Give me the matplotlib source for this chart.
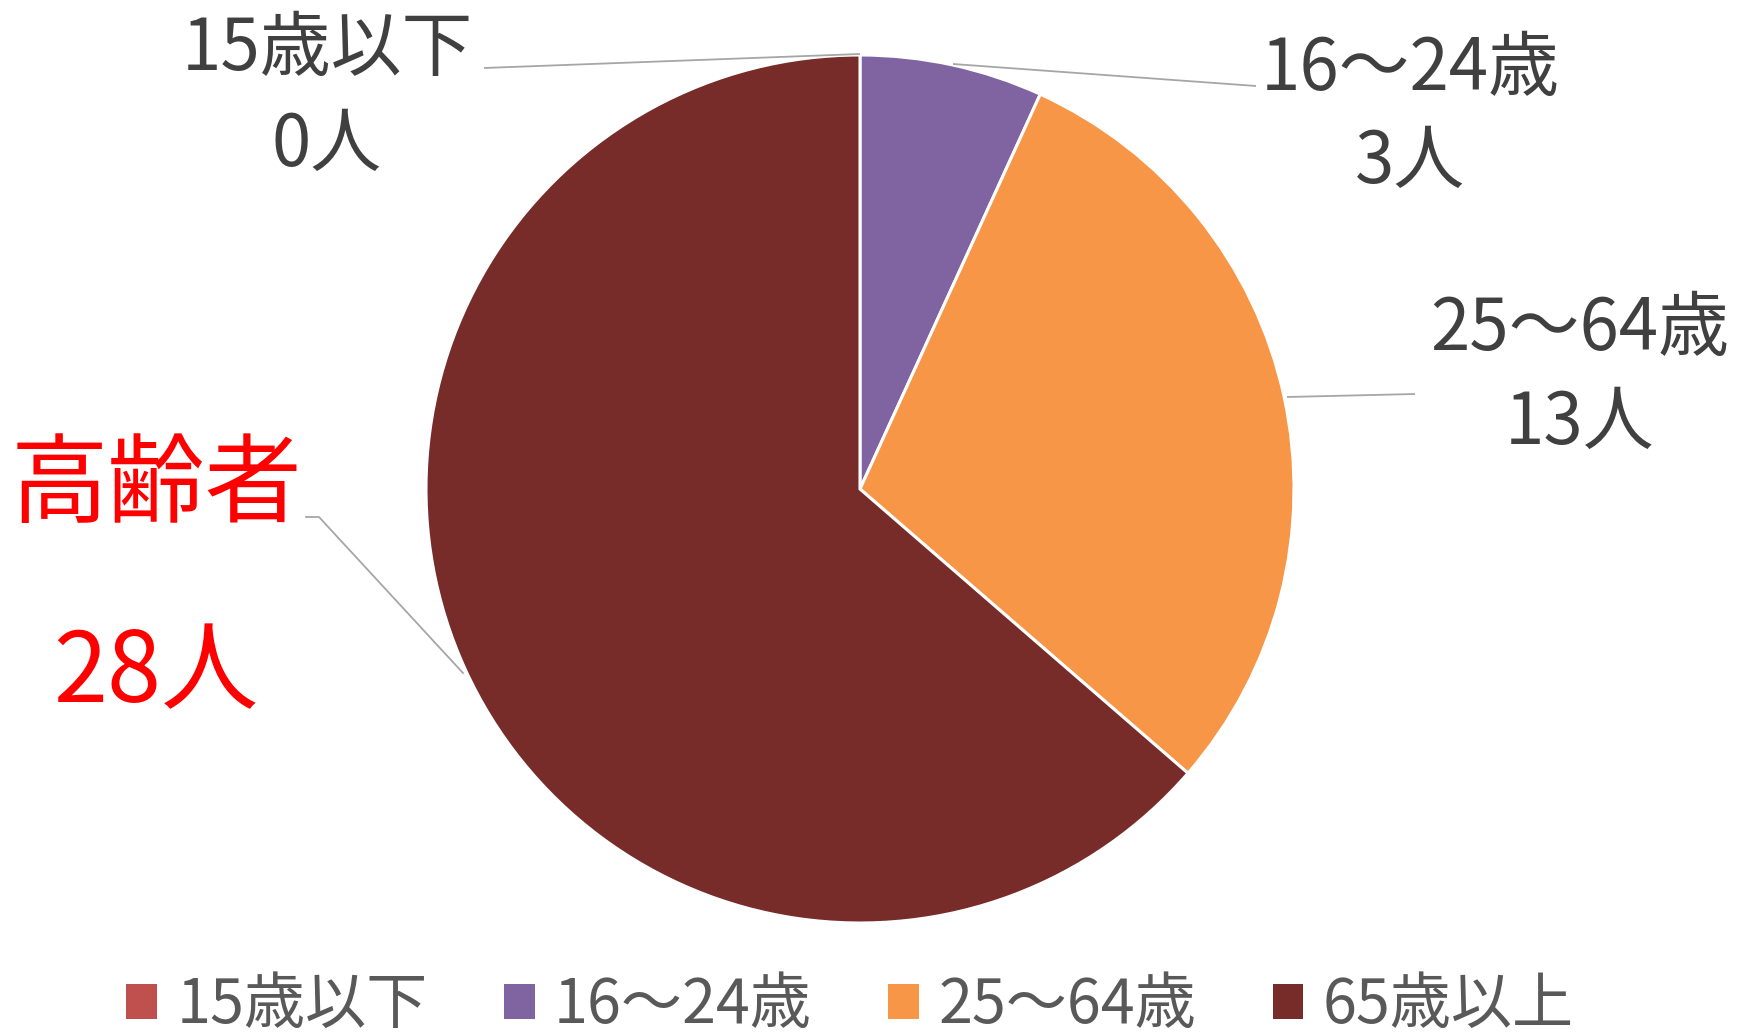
import matplotlib
matplotlib.use("Agg")
import matplotlib.pyplot as plt
from matplotlib.patches import Patch

plt.rcParams['font.family'] = ['Noto Sans CJK JP', 'DejaVu Sans']

categories = ['15歳以下', '16〜24歳', '25〜64歳', '65歳以上']
values = [0, 3, 13, 28]
colors = ['#C0504D', '#8064A2', '#F79646', '#772C2A']
unit = '人'
highlight_title = '高齢者'

W, H = 1744, 1034
fig = plt.figure(figsize=(W / 100, H / 100), dpi=100)
ax = fig.add_axes([0, 0, 1, 1])
ax.set_xlim(0, W)
ax.set_ylim(0, H)
ax.set_aspect('equal')
ax.axis('off')

cx, cy, r = 860, H - 489, 434
wedges, _ = ax.pie(values, colors=colors, startangle=90, counterclock=False,
                   center=(cx, cy), radius=r,
                   wedgeprops=dict(edgecolor='white', linewidth=2.2))
ax.set_xlim(0, W)
ax.set_ylim(0, H)

label_color = '#404040'
line_color = '#A6A6A6'

# label positions (pixel coords from top): (x, y_line1, y_line2)
label_pos = [(327, 50, 145), (1410, 69, 162), (1580, 330, 423)]
leaders = [
    [(860, 54), (484, 68)],
    [(953, 64), (1256, 86)],
    [(1287, 397), (1415, 394)],
]
for i in range(3):
    x, y1, y2 = label_pos[i]
    ax.text(x, H - y1, categories[i], ha='center', va='center',
            fontsize=51, color=label_color)
    ax.text(x, H - y2, f'{values[i]}{unit}', ha='center', va='center',
            fontsize=51, color=label_color)
    pts = leaders[i]
    ax.plot([p[0] for p in pts], [H - p[1] for p in pts],
            color=line_color, lw=1.3, solid_capstyle='butt')

# highlighted elderly label
ax.text(156, H - 487, highlight_title, ha='center', va='center',
        fontsize=70, color='#FF0000')
ax.text(156, H - 674, f'{values[3]}{unit}', ha='center', va='center',
        fontsize=70, color='#FF0000')
pts = [(463, 673), (319, 517), (306, 517)]
ax.plot([p[0] for p in pts], [H - p[1] for p in pts],
        color=line_color, lw=1.3)

handles = [Patch(facecolor=c, edgecolor='none') for c in colors]
leg = ax.legend(handles, categories, loc='center', ncol=4,
                bbox_to_anchor=(850 / W, 28 / H), bbox_transform=fig.transFigure,
                frameon=False, fontsize=44, handlelength=0.5, handleheight=0.5,
                handletextpad=0.32, columnspacing=1.25, borderpad=0)
for t in leg.get_texts():
    t.set_color('#595959')

fig.savefig('out.png', dpi=100, facecolor='white')
